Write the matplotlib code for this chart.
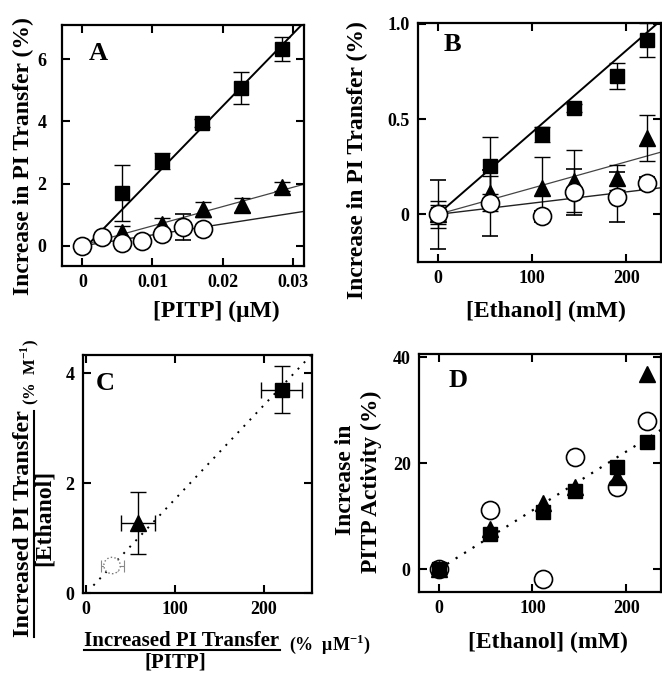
import numpy as np
import matplotlib
matplotlib.use("Agg")
import matplotlib.pyplot as plt
from matplotlib.lines import Line2D

plt.rcParams['font.family'] = ['Liberation Serif', 'DejaVu Serif']
plt.rcParams['font.weight'] = 'bold'
plt.rcParams['mathtext.fontset'] = 'custom'
plt.rcParams['mathtext.bf'] = 'Liberation Serif:bold'
plt.rcParams['mathtext.rm'] = 'Liberation Serif:bold'

# ---------------- Panel A data ----------------
A_sq_x = [0.0057, 0.0114, 0.0171, 0.0226, 0.0285]
A_sq_y = [1.69, 2.73, 3.95, 5.08, 6.33]
A_sq_e = [0.90, 0.25, 0.12, 0.52, 0.40]
A_tri_x = [0.0057, 0.0114, 0.0172, 0.0228, 0.0285]
A_tri_y = [0.45, 0.70, 1.17, 1.31, 1.90]
A_tri_e = [0.20, 0.20, 0.25, 0.22, 0.15]
A_cir_x = [0.0, 0.0028, 0.0057, 0.0085, 0.0114, 0.0143, 0.0172]
A_cir_y = [0.0, 0.27, 0.08, 0.16, 0.38, 0.61, 0.55]
A_cir_e = [0.0, 0.0, 0.0, 0.0, 0.0, 0.42, 0.0]
A_fit_sq = (232.0, -0.15)
A_fit_tri = (62.0, 0.02)
A_fit_cir = (35.0, 0.0)

# ---------------- Panel B data ----------------
B_x = [0, 55, 111, 145, 190, 222]
B_sq_y = [0.0, 0.255, 0.42, 0.56, 0.726, 0.915]
B_sq_e = [0.07, 0.15, 0.04, 0.02, 0.07, 0.09]
B_tri_y = [0.0, 0.11, 0.14, 0.175, 0.193, 0.40]
B_tri_e = [0.05, 0.09, 0.16, 0.165, 0.065, 0.12]
B_cir_y = [0.0, 0.06, -0.01, 0.117, 0.09, 0.165]
B_cir_e = [0.18, 0.175, 0.03, 0.12, 0.13, 0.03]
B_fit_slopes = [0.0043, 0.00138, 0.00059]

# ---------------- Panel C data ----------------
C_x = [220, 58, 29]
C_y = [3.70, 1.27, 0.50]
C_xe = [23, 19, 13]
C_ye = [0.43, 0.56, 0.10]
C_fit_slope = 0.0171

# ---------------- Panel D data ----------------
D_x = [0, 55, 111, 145, 190, 222]
D_sq_y = [0.0, 6.6, 10.8, 14.7, 19.2, 24.0]
D_tri_y = [0.0, 7.5, 12.5, 15.6, 17.4, 36.9]
D_cir_y = [0.0, 11.1, -1.8, 21.2, 15.5, 28.0]
D_fit_slope = 0.111

W, H = 662, 673
fig = plt.figure(figsize=(W / 100, H / 100), dpi=100)


def add_axes(l, r, t, b):
    return fig.add_axes([l / W, 1 - b / H, (r - l) / W, (b - t) / H])


def style(ax, ypad=6):
    for s in ax.spines.values():
        s.set_linewidth(1.6)
    ax.tick_params(direction='in', length=6, width=1.5, top=True, right=True,
                   labelsize=13, pad=6)
    ax.tick_params(axis='y', pad=ypad)
    for lab in ax.get_xticklabels() + ax.get_yticklabels():
        lab.set_fontweight('bold')


def ftext(x, y, s, **kw):
    kw.setdefault('ha', 'center')
    kw.setdefault('va', 'center')
    kw.setdefault('fontsize', 17)
    kw.setdefault('fontweight', 'bold')
    return fig.text(x / W, 1 - y / H, s, **kw)


ms_sq, ms_tri, ms_cir = 10.5, 12, 13
ekw = dict(ecolor='black', elinewidth=1.0, capsize=5.5, capthick=1.0, linestyle='none')

# ---------------- Panel A ----------------
axA = add_axes(62, 304, 25, 266)
xx = np.array([0.0, 0.0316])
axA.plot(xx, A_fit_sq[0] * xx + A_fit_sq[1], color='black', lw=1.4, zorder=1)
axA.plot(xx, A_fit_tri[0] * xx + A_fit_tri[1], color='#444444', lw=0.9, zorder=1)
axA.plot(xx, A_fit_cir[0] * xx + A_fit_cir[1], color='#222222', lw=1.0, zorder=1)
axA.errorbar(A_sq_x, A_sq_y, yerr=A_sq_e, marker='s', ms=ms_sq, mfc='black', mec='black', zorder=3, **ekw)
axA.errorbar(A_tri_x, A_tri_y, yerr=A_tri_e, marker='^', ms=ms_tri, mfc='black', mec='black', zorder=4, **ekw)
axA.errorbar(A_cir_x, A_cir_y, yerr=A_cir_e, marker='o', ms=ms_cir, mfc='white', mec='black', mew=1.2, zorder=5, **ekw)
axA.set_xlim(-0.0029, 0.0316)
axA.set_ylim(-0.65, 7.1)
axA.set_xticks([0, 0.01, 0.02, 0.03])
axA.set_xticklabels(['0', '0.01', '0.02', '0.03'])
axA.set_yticks([0, 2, 4, 6])
axA.set_yticklabels(['0', '2', '4', '6'])
style(axA, ypad=11)
axA.text(0.15, 0.88, 'A', transform=axA.transAxes, fontsize=19, fontweight='bold', ha='center', va='center')
ftext(23, 156, 'Increase in PI Transfer (%)', rotation=90)
ftext(216, 311, '[PITP] (μM)')

# ---------------- Panel B ----------------
axB = add_axes(418, 661, 23, 262)
xb = np.array([0.0, 237.0])
axB.plot(xb, B_fit_slopes[0] * xb, color='black', lw=1.4, zorder=1)
axB.plot(xb, B_fit_slopes[1] * xb, color='#444444', lw=0.9, zorder=1)
axB.plot(xb, B_fit_slopes[2] * xb, color='#222222', lw=1.0, zorder=1)
axB.errorbar(B_x, B_sq_y, yerr=B_sq_e, marker='s', ms=ms_sq, mfc='black', mec='black', zorder=3, **ekw)
axB.errorbar(B_x, B_tri_y, yerr=B_tri_e, marker='^', ms=ms_tri, mfc='black', mec='black', zorder=4, **ekw)
axB.errorbar(B_x, B_cir_y, yerr=B_cir_e, marker='o', ms=ms_cir, mfc='white', mec='black', mew=1.2, zorder=5, **ekw)
axB.set_xlim(-21, 237)
axB.set_ylim(-0.25, 1.005)
axB.set_xticks([0, 100, 200])
axB.set_yticks([0, 0.5, 1.0])
axB.set_yticklabels(['0', '0.5', '1.0'])
style(axB)
axB.text(0.14, 0.91, 'B', transform=axB.transAxes, fontsize=19, fontweight='bold', ha='center', va='center')
ftext(357, 160, 'Increase in PI Transfer (%)', rotation=90)
ftext(546, 311, '[Ethanol] (mM)')

# ---------------- Panel C ----------------
axC = add_axes(83, 312, 355, 593)
xc = np.array([8.0, 252.0])
axC.plot(xc, C_fit_slope * xc, color='black', lw=1.4, linestyle=(0, (1, 3.5)), zorder=1)
axC.errorbar(C_x[0], C_y[0], xerr=C_xe[0], yerr=C_ye[0], marker='s', ms=ms_sq, mfc='black', mec='black', zorder=3, **ekw)
axC.errorbar(C_x[1], C_y[1], xerr=C_xe[1], yerr=C_ye[1], marker='^', ms=ms_tri, mfc='black', mec='black', zorder=3, **ekw)
axC.errorbar(C_x[2], C_y[2], xerr=C_xe[2], yerr=C_ye[2], marker='none', ecolor='#888888',
             elinewidth=0.8, capsize=4, capthick=0.8, linestyle='none', zorder=3)
axC.scatter([C_x[2]], [C_y[2]], s=140, facecolors='white', edgecolors='#777777', linewidths=1.0,
            linestyle=':', zorder=4)
axC.set_xlim(-3.7, 254)
axC.set_ylim(0, 4.33)
axC.set_xticks([0, 100, 200])
axC.set_yticks([0, 2, 4])
style(axC)
axC.text(0.096, 0.88, 'C', transform=axC.transAxes, fontsize=19, fontweight='bold', ha='center', va='center')
t_cy = ftext(24, 524, 'Increased PI Transfer', rotation=90, fontsize=17.5)
ftext(44, 518, '[Ethanol]', rotation=90)
ftext(30, 372, '(%  M$^{\\mathbf{-1}}$)', rotation=90, fontsize=12)
t_cx = ftext(182, 641, 'Increased PI Transfer', fontsize=15)
ftext(175, 663, '[PITP]', fontsize=15)
ftext(330, 644, '(%  μM$^{\\mathbf{-1}}$)', fontsize=13)

# ---------------- Panel D ----------------
axD = add_axes(419, 661, 354, 592)
xd = np.array([0.0, 237.0])
axD.plot(xd, D_fit_slope * xd, color='black', lw=1.6, linestyle=(0, (1, 3.5)), zorder=1)
axD.plot(D_x, D_cir_y, linestyle='none', marker='o', ms=ms_cir, mfc='white', mec='black', mew=1.2, zorder=3)
axD.plot(D_x, D_sq_y, linestyle='none', marker='s', ms=ms_sq, mfc='black', mec='black', zorder=4)
axD.plot(D_x, D_tri_y, linestyle='none', marker='^', ms=ms_tri, mfc='black', mec='black', zorder=5)
axD.set_xlim(-21, 237)
axD.set_ylim(-4.3, 40.6)
axD.set_xticks([0, 100, 200])
axD.set_yticks([0, 20, 40])
style(axD)
axD.text(0.16, 0.89, 'D', transform=axD.transAxes, fontsize=19, fontweight='bold', ha='center', va='center')
ftext(345, 480, 'Increase in', rotation=90)
ftext(371, 482, 'PITP Activity (%)', rotation=90)
ftext(548, 642, '[Ethanol] (mM)')

# underlines for the fraction-style labels of panel C
fig.canvas.draw()
r = fig.canvas.get_renderer()
bx = t_cx.get_window_extent(r)
fig.add_artist(Line2D([bx.x0 / W, bx.x1 / W], [(bx.y0 + 1) / H, (bx.y0 + 1) / H],
                      color='black', lw=1.5, transform=fig.transFigure))
by = t_cy.get_window_extent(r)
fig.add_artist(Line2D([(by.x1 - 1) / W, (by.x1 - 1) / W], [by.y0 / H, by.y1 / H],
                      color='black', lw=1.5, transform=fig.transFigure))

fig.savefig('out.png', dpi=100)
